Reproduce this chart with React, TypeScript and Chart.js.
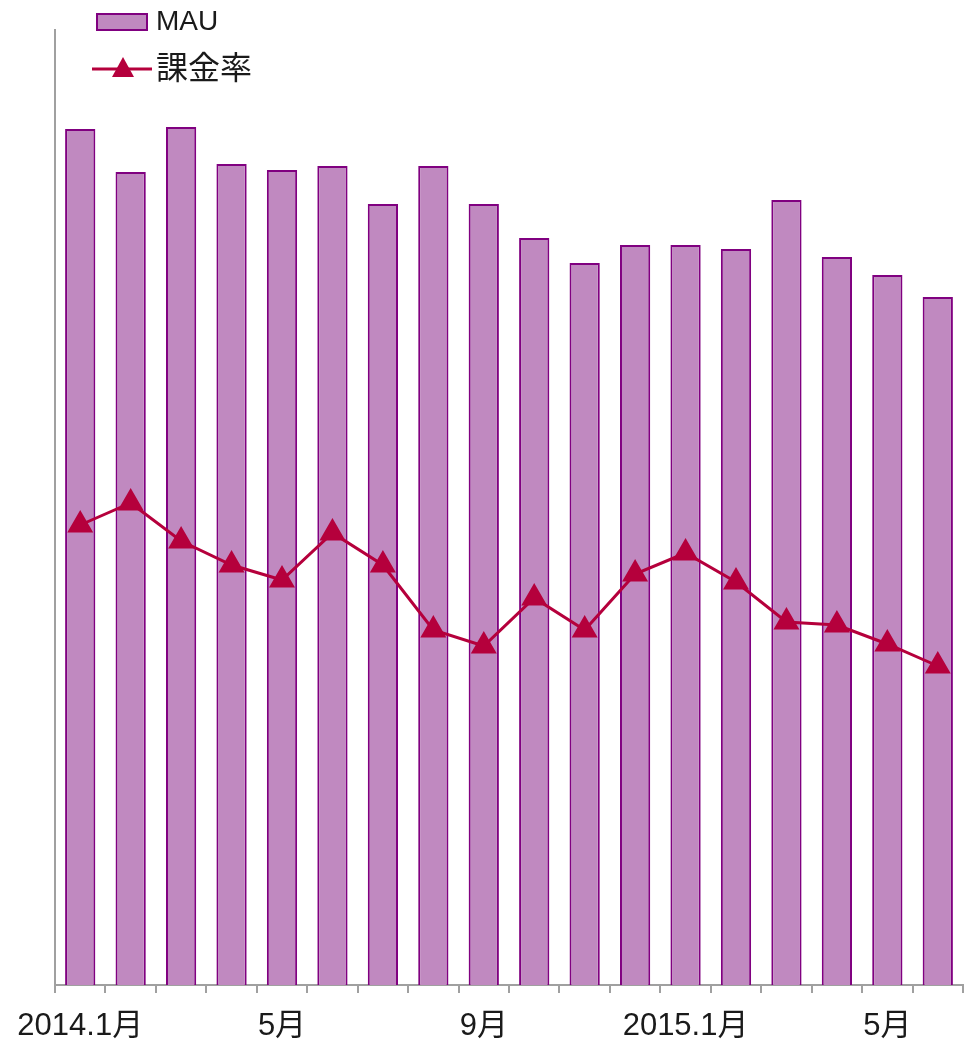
import React, { useEffect, useRef } from "react";
import { Chart, registerables } from "chart.js";

Chart.register(...registerables);

const categories = [
  "2014.1月", "2月", "3月", "4月", "5月", "6月", "7月", "8月", "9月",
  "10月", "11月", "12月", "2015.1月", "2月", "3月", "4月", "5月", "6月",
];
const shownLabels = ["2014.1月", "", "", "", "5月", "", "", "", "9月", "", "", "", "2015.1月", "", "", "", "5月", ""];
const mauValues = [856, 813, 858, 821, 815, 819, 781, 819, 781, 747, 722, 740, 740, 736, 785, 728, 710, 688];
const rateValues = [460, 482, 444, 420, 405, 452, 420, 355, 339, 387, 355, 411, 432, 403, 363, 360, 341, 319];
const axisMax = 955;

export default function App() {
  const ref = useRef<HTMLCanvasElement | null>(null);
  useEffect(() => {
    document.body.style.margin = "0";
    document.documentElement.style.overflow = "hidden";
    const ctx = ref.current!.getContext("2d")!;
    const chart = new Chart(ctx, {
      data: {
        labels: categories,
        datasets: [
          {
            type: "line",
            label: "課金率",
            data: rateValues,
            yAxisID: "y1",
            borderColor: "#b5003c",
            backgroundColor: "#b5003c",
            borderWidth: 3,
            pointStyle: "triangle",
            pointRadius: 12,
            pointBackgroundColor: "#b5003c",
            pointBorderColor: "#b5003c",
            tension: 0,
            order: 0,
          },
          {
            type: "bar",
            label: "MAU",
            data: mauValues,
            yAxisID: "y",
            backgroundColor: "#c089c0",
            borderColor: "#800080",
            borderWidth: 2,
            barPercentage: 0.6,
            categoryPercentage: 1,
            order: 1,
          },
        ],
      },
      options: {
        animation: false,
        responsive: false,
        maintainAspectRatio: false,
        layout: { autoPadding: false, padding: { left: 47, right: 1, top: 30, bottom: 0 } },
        plugins: { legend: { display: false }, tooltip: { enabled: false } },
        scales: {
          x: {
            offset: true,
            afterFit: (s: any) => { s.paddingLeft = 0; s.paddingRight = 0; s.height = 54; },
            grid: {
              display: true,
              drawOnChartArea: false,
              tickLength: 8,
              color: "#a0a0a0",
              lineWidth: 2,
              offset: true,
            },
            border: { display: true, color: "#a0a0a0", width: 2 },
            ticks: {
              autoSkip: false,
              maxRotation: 0,
              color: "#1a1a1a",
              padding: 15,
              font: { family: "'Liberation Sans', Arial, 'Noto Sans CJK JP', sans-serif", size: 31 },
              callback: (_v: any, i: number) => shownLabels[i],
            },
          },
          y: {
            min: 0,
            max: axisMax,
            display: true,
            grid: { display: false },
            ticks: { display: false },
            border: { display: true, color: "#a0a0a0", width: 2 },
          },
          y1: {
            min: 0,
            max: axisMax,
            display: false,
          },
        },
      },
    });
    return () => chart.destroy();
  }, []);

  const textFont = "'Liberation Sans', Arial, 'Noto Sans CJK JP', sans-serif";
  return (
    <div style={{ position: "fixed", left: 0, top: 0, width: 964, height: 1039, background: "#fff", overflow: "hidden" }}>
      <canvas ref={ref} width={964} height={1039} style={{ display: "block" }} />
      <div style={{ position: "absolute", left: 96, top: 13, width: 52, height: 18, background: "#c089c0", border: "2px solid #800080", boxSizing: "border-box" }} />
      <div style={{ position: "absolute", left: 156, top: 4, fontFamily: textFont, fontSize: 28, color: "#1a1a1a", lineHeight: "34px" }}>MAU</div>
      <svg style={{ position: "absolute", left: 92, top: 56 }} width={60} height={26}>
        <line x1={0} y1={13} x2={60} y2={13} stroke="#b5003c" strokeWidth={3} />
        <polygon points="31,1 42,21 20,21" fill="#b5003c" />
      </svg>
      <div style={{ position: "absolute", left: 156, top: 48, fontFamily: textFont, fontSize: 32, color: "#1a1a1a", lineHeight: "40px" }}>課金率</div>
    </div>
  );
}
